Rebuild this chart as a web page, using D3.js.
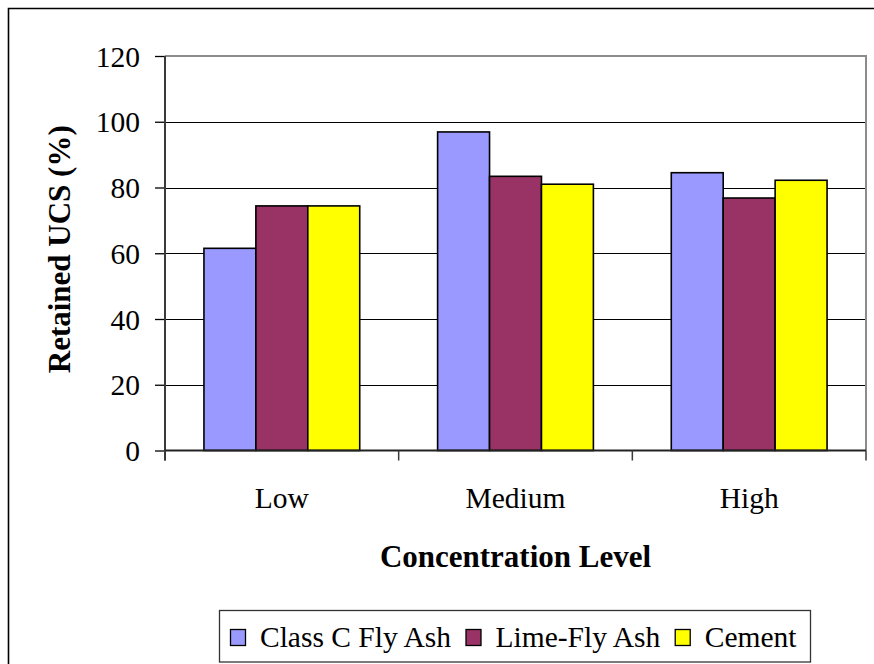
<!DOCTYPE html>
<html>
<head>
<meta charset="utf-8">
<script src="https://cdn.jsdelivr.net/npm/d3@7"></script>
<style>
  html, body { margin: 0; padding: 0; background: #fff; }
  svg { display: block; }
  svg text { font-family: "Times New Roman", "Liberation Serif", Times, "DejaVu Serif", serif; fill: #000; }
</style>
</head>
<body>
<svg id="chart" width="874" height="664"></svg>
<script>
// Retained UCS (%) by stabilizer and concentration level
const categories = ["Low", "Medium", "High"];
const seriesNames = ["Class C Fly Ash", "Lime-Fly Ash", "Cement"];
const classCFlyAsh = [61.5, 96.9, 84.5];
const limeFlyAsh = [74.4, 83.4, 76.8];
const cement = [74.4, 81.0, 82.2];
const yTicks = [0, 20, 40, 60, 80, 100, 120];
const seriesColors = ["#9999FF", "#993366", "#FFFF00"];

const seriesValues = [classCFlyAsh, limeFlyAsh, cement];
const serif = '"Times New Roman", "Liberation Serif", Times, "DejaVu Serif", serif';

const svg = d3.select("#chart");

// chart frame (top and left edges)
svg.append("path")
  .attr("d", "M8.5,664 V8.5 H874")
  .attr("fill", "none")
  .attr("stroke", "#000")
  .attr("stroke-width", 1.6);

const plot = { left: 165, right: 866, top: 56, bottom: 450.5 };

const y = d3.scaleLinear().domain([0, 120]).range([plot.bottom, plot.top]);
const x0 = d3.scaleBand().domain(categories).range([plot.left, plot.right]).padding(0);
const x1 = d3.scaleBand().domain(seriesNames).range([0, x0.bandwidth()])
  .paddingInner(0).paddingOuter(0.75);

// horizontal gridlines
svg.append("g")
  .selectAll("line")
  .data(yTicks.filter(t => t > 0 && t < 120))
  .join("line")
  .attr("x1", plot.left).attr("x2", plot.right)
  .attr("y1", d => Math.round(y(d)) + 0.5).attr("y2", d => Math.round(y(d)) + 0.5)
  .attr("stroke", "#000").attr("stroke-width", 1);

// plot area border (top and right)
svg.append("path")
  .attr("d", `M${plot.left},${y(120)} H${plot.right} V${plot.bottom}`)
  .attr("fill", "none")
  .attr("stroke", "#8c8c8c")
  .attr("stroke-width", 2);

// bars
const groups = svg.append("g")
  .selectAll("g")
  .data(categories)
  .join("g")
  .attr("transform", d => `translate(${x0(d)},0)`);

groups.selectAll("rect")
  .data((c, i) => seriesNames.map((s, j) => ({ s, j, v: seriesValues[j][i] })))
  .join("rect")
  .attr("x", d => x1(d.s))
  .attr("y", d => y(d.v))
  .attr("width", x1.bandwidth())
  .attr("height", d => y(0) - y(d.v))
  .attr("fill", d => seriesColors[d.j])
  .attr("stroke", "#000")
  .attr("stroke-width", 1.6);

// y axis
const yAxis = svg.append("g")
  .attr("transform", `translate(${plot.left},0)`)
  .call(d3.axisLeft(y).tickValues(yTicks).tickSize(10).tickPadding(15))
  .attr("font-family", serif);
yAxis.select(".domain").remove();
yAxis.selectAll(".tick line").attr("stroke", "#000").attr("stroke-width", 1.3);
yAxis.selectAll(".tick text")
  .attr("font-size", "29.5px")
  .attr("dy", "0.34em");
svg.append("line")
  .attr("x1", plot.left).attr("x2", plot.left)
  .attr("y1", plot.top).attr("y2", plot.bottom + 10)
  .attr("stroke", "#3a3a3a").attr("stroke-width", 2);

// x axis: category labels centred in bands
const xAxis = svg.append("g")
  .attr("transform", `translate(0,${plot.bottom})`)
  .call(d3.axisBottom(x0).tickSize(0))
  .attr("font-family", serif);
xAxis.select(".domain").remove();
xAxis.selectAll(".tick text")
  .attr("font-size", "29.5px")
  .attr("y", 57.5)
  .attr("dy", 0);

// x axis line and category boundary ticks
svg.append("line")
  .attr("x1", plot.left).attr("x2", plot.right)
  .attr("y1", plot.bottom).attr("y2", plot.bottom)
  .attr("stroke", "#222").attr("stroke-width", 2);
svg.append("g")
  .selectAll("line")
  .data(categories.map(c => x0(c)).concat([plot.right]))
  .join("line")
  .attr("x1", d => d).attr("x2", d => d)
  .attr("y1", plot.bottom).attr("y2", plot.bottom + 10)
  .attr("stroke", "#3a3a3a").attr("stroke-width", 1.5);

// axis titles
svg.append("text")
  .attr("x", (plot.left + plot.right) / 2)
  .attr("y", 567)
  .attr("text-anchor", "middle")
  .attr("font-size", "31px")
  .attr("font-weight", "bold")
  .text("Concentration Level");

svg.append("text")
  .attr("transform", `translate(69.5,${(plot.top + plot.bottom) / 2 - 4}) rotate(-90)`)
  .attr("text-anchor", "middle")
  .attr("font-size", "31px")
  .attr("font-weight", "bold")
  .text("Retained UCS (%)");

// legend
const legend = svg.append("g");
legend.append("rect")
  .attr("x", 219.5).attr("y", 610.5)
  .attr("width", 591).attr("height", 51.5)
  .attr("fill", "#fff")
  .attr("stroke", "#333").attr("stroke-width", 1.3);

let lx = 230.5;
seriesNames.forEach((name, j) => {
  legend.append("rect")
    .attr("x", lx).attr("y", 629.5)
    .attr("width", 15).attr("height", 16)
    .attr("fill", seriesColors[j])
    .attr("stroke", "#000").attr("stroke-width", 1.3);
  const t = legend.append("text")
    .attr("x", lx + 29.5)
    .attr("y", 646.5)
    .attr("font-size", "29.5px")
    .text(name);
  lx = lx + 29.5 + t.node().getComputedTextLength() + 15;
});
</script>
</body>
</html>
